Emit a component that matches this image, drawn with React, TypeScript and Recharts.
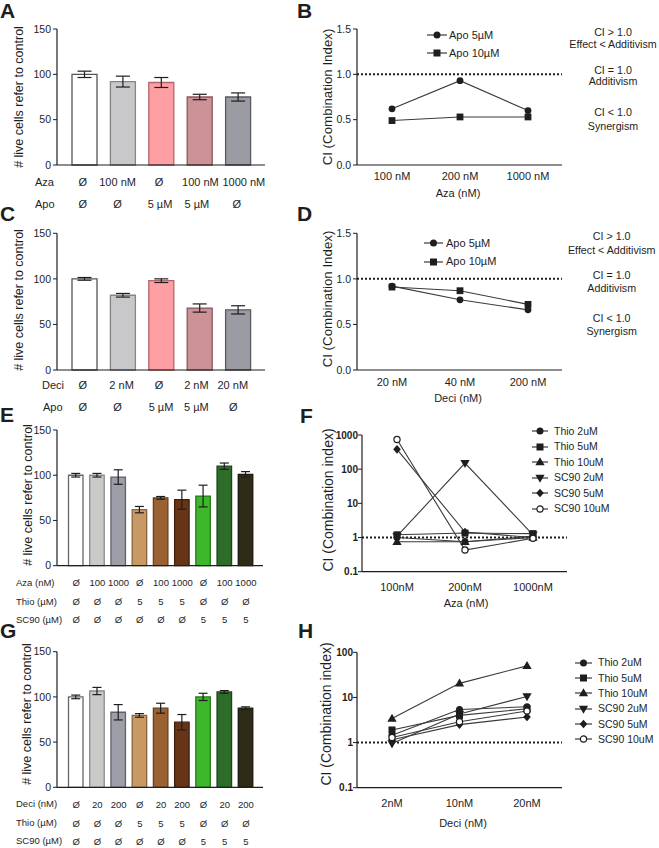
import { BarChart, Bar, Cell, ErrorBar, XAxis, YAxis, LineChart, Line, ReferenceLine } from "recharts";

const FONT = '"Liberation Sans", Arial, Helvetica, sans-serif';
const INK = "#1e1e1e";
const LINE = "#3a3a3a";

// A: Aza + Apo, live cells
const A_AZA = ["Ø", "100 nM", "Ø", "100 nM", "1000 nM"];
const A_APO = ["Ø", "Ø", "5 µM", "5 µM", "Ø"];
const A_MEAN = [100, 92, 91, 75, 75];
const A_SEM = [3.5, 6, 5.5, 3, 4.5];

// C: Deci + Apo
const C_DECI = ["Ø", "2 nM", "Ø", "2 nM", "20 nM"];
const C_APO = ["Ø", "Ø", "5 µM", "5 µM", "Ø"];
const C_MEAN = [100, 82, 98, 68, 66];
const C_SEM = [1.5, 2, 2, 4.5, 4.5];

const AC_FILL = ["#ffffff", "#c8c8ca", "#fe9fa3", "#cd9297", "#9b9ba3"];
const AC_EDGE = ["#555555", "#858585", "#b0666b", "#87595d", "#5a5a62"];

// B: CI, Aza + Apo
const B_AZA = ["100 nM", "200 nM", "1000 nM"];
const B_APO5 = [0.62, 0.93, 0.6];
const B_APO10 = [0.49, 0.53, 0.53];

// D: CI, Deci + Apo
const D_DECI = ["20 nM", "40 nM", "200 nM"];
const D_APO5 = [0.92, 0.77, 0.66];
const D_APO10 = [0.91, 0.87, 0.72];

// E: Aza + Thio / SC90
const E_AZA = ["Ø", "100", "1000", "Ø", "100", "1000", "Ø", "100", "1000"];
const E_THIO = ["Ø", "Ø", "Ø", "5", "5", "5", "Ø", "Ø", "Ø"];
const E_SC90 = ["Ø", "Ø", "Ø", "Ø", "Ø", "Ø", "5", "5", "5"];
const E_MEAN = [100, 100, 98, 62, 75, 73, 77, 110, 101];
const E_SEM = [2, 2, 8, 3.5, 1.5, 10.5, 12, 3.5, 3];

// G: Deci + Thio / SC90
const G_DECI = ["Ø", "20", "200", "Ø", "20", "200", "Ø", "20", "200"];
const G_THIO = ["Ø", "Ø", "Ø", "5", "5", "5", "Ø", "Ø", "Ø"];
const G_SC90 = ["Ø", "Ø", "Ø", "Ø", "Ø", "Ø", "5", "5", "5"];
const G_MEAN = [100, 106.5, 83, 79.5, 87.5, 72, 100, 105.5, 87.5];
const G_SEM = [2, 4, 8.5, 2, 5.5, 8.5, 4, 1.5, 1.5];

const EG_FILL = ["#ffffff", "#cacaca", "#9d9ea8", "#c99965", "#9a6233", "#683416", "#3cb82a", "#2e6c29", "#2e2b17"];
const EG_EDGE = ["#666666", "#8a8a8a", "#60616a", "#8a6540", "#65401f", "#40200c", "#257a1a", "#1c461a", "#1a180c"];

// F: CI log, Aza + Thio / SC90
const F_AZA = ["100nM", "200nM", "1000nM"];
const F_THIO2 = [1.0, 0.75, 1.1];
const F_THIO5 = [1.2, 1.35, 1.3];
const F_THIO10 = [0.75, 0.75, 1.0];
const F_SC90_2 = [1.1, 150, 1.2];
const F_SC90_5 = [380, 1.45, 1.0];
const F_SC90_10 = [740, 0.43, 0.95];

// H: CI log, Deci + Thio / SC90
const H_DECI = ["2nM", "10nM", "20nM"];
const H_THIO2 = [1.45, 5.4, 6.2];
const H_THIO5 = [1.9, 4.0, 5.6];
const H_THIO10 = [3.4, 20.5, 50];
const H_SC90_2 = [0.95, 4.3, 10.5];
const H_SC90_5 = [1.15, 2.5, 3.7];
const H_SC90_10 = [1.3, 2.9, 5.0];

const NAMES6 = ["Thio 2uM", "Thio 5uM", "Thio 10uM", "SC90 2uM", "SC90 5uM", "SC90 10uM"];
const SHAPES6 = ["circle", "square", "triangle", "down", "diamond", "open"];

// small horizontal nudges of the treatment labels under the bars (layout only)
const A_NUDGE = [[-1.5, -5, -2, 1, 6], [-1.5, -5, -1, -2.5, -1]];
const C_NUDGE = [[-1.5, -1, -2, -3, -5], [-1.5, -5, 0, -3, -4.5]];

function Mark({ shape, cx, cy, r = 3.5 }: any) {
  if (cx == null || cy == null) return null;
  const h = r * 1.15;
  switch (shape) {
    case "square":
      return <rect x={cx - r} y={cy - r} width={2 * r} height={2 * r} fill={INK} />;
    case "triangle":
      return <polygon points={`${cx},${cy - h - 0.8} ${cx + h + 0.6},${cy + h * 0.8} ${cx - h - 0.6},${cy + h * 0.8}`} fill={INK} />;
    case "down":
      return <polygon points={`${cx},${cy + h + 0.8} ${cx + h + 0.6},${cy - h * 0.8} ${cx - h - 0.6},${cy - h * 0.8}`} fill={INK} />;
    case "diamond":
      return <polygon points={`${cx},${cy - r - 0.8} ${cx + r + 0.3},${cy} ${cx},${cy + r + 0.8} ${cx - r - 0.3},${cy}`} fill={INK} />;
    case "open":
      return <circle cx={cx} cy={cy} r={r - 0.4} fill="#fff" stroke={INK} strokeWidth={1.2} />;
    default:
      return <circle cx={cx} cy={cy} r={r} fill={INK} />;
  }
}

function T({ x, y, s = 11, a = "start", b = false, children }: any) {
  const tx = a === "middle" ? "translateX(-50%)" : a === "end" ? "translateX(-100%)" : "none";
  return (
    <div
      style={{
        position: "absolute",
        left: x,
        top: y - s / 2,
        fontSize: s,
        lineHeight: `${s}px`,
        fontWeight: b ? 700 : 400,
        whiteSpace: "nowrap",
        transform: tx,
      }}
    >
      {children}
    </div>
  );
}

function VT({ x, y, s = 12.5, children }: any) {
  return (
    <div
      style={{
        position: "absolute",
        left: x,
        top: y,
        fontSize: s,
        lineHeight: `${s}px`,
        whiteSpace: "nowrap",
        transform: "translate(-50%, -50%) rotate(-90deg)",
      }}
    >
      {children}
    </div>
  );
}

function LegendRow({ x, y, w, shape, label, s = 11, gap = 4 }: any) {
  return (
    <>
      <svg style={{ position: "absolute", left: x, top: y - 6 }} width={w} height={12}>
        <line x1={0} x2={w} y1={6} y2={6} stroke={LINE} strokeWidth={1.2} />
        <Mark shape={shape} cx={w / 2} cy={6} />
      </svg>
      <T x={x + w + gap} y={y} s={s}>
        {label}
      </T>
    </>
  );
}

const rowTick = (rows: string[][], offs: number[], fs: number, nudge?: number[][]) => (props: any) => {
  const { x, y } = props;
  const i = props.index ?? props.payload?.index ?? 0;
  return (
    <g>
      {rows.map((r, k) => (
        <text
          key={k}
          x={x + (nudge ? nudge[k][i] : 0)}
          y={y + offs[k]}
          textAnchor="middle"
          dominantBaseline="central"
          fontSize={fs}
          fill={INK}
          fontFamily={FONT}
        >
          {r[i]}
        </text>
      ))}
    </g>
  );
};

function BarPanel({ top, height, plotTop, axisH, right, mean, sem, fills, edges, rows, offs, rowFont, nudge, barSize, cap, pad }: any) {
  const data = mean.map((m: number, i: number) => ({ id: `b${i}`, mean: m, sem: sem[i] }));
  return (
    <div style={{ position: "absolute", left: 0, top, width: 330, height }}>
      <BarChart width={330} height={height} data={data} margin={{ top: plotTop, right, left: 17, bottom: 0 }} barSize={barSize}>
        <XAxis
          dataKey="id"
          height={axisH}
          padding={pad}
          interval={0}
          axisLine={{ stroke: INK, strokeWidth: 1.2 }}
          tickLine={false}
          tickSize={0}
          tickMargin={0}
          tick={rowTick(rows, offs, rowFont, nudge)}
        />
        <YAxis
          width={40}
          domain={[0, 150]}
          ticks={[0, 50, 100, 150]}
          tickSize={4}
          tickMargin={2}
          axisLine={{ stroke: INK, strokeWidth: 1.2 }}
          tickLine={{ stroke: INK }}
          tick={{ fontSize: 10.5, fill: INK, fontFamily: FONT }}
        />
        <Bar dataKey="mean" isAnimationActive={false} strokeWidth={1.3}>
          {data.map((d: any, i: number) => (
            <Cell key={d.id} fill={fills[i]} stroke={edges[i]} />
          ))}
          <ErrorBar dataKey="sem" width={cap} stroke={INK} strokeWidth={1.2} direction="y" />
        </Bar>
      </BarChart>
    </div>
  );
}

function LinePanel({ left, top, width, height, plotTop, axisH, yw, right, cats, series, domain, ticks, log, fmt, bold, xMargin, pad, r }: any) {
  const data = cats.map((c: string, i: number) => {
    const row: any = { cat: c };
    series.forEach((s: any, k: number) => (row[`s${k}`] = s.values[i]));
    return row;
  });
  return (
    <div style={{ position: "absolute", left, top, width, height }}>
      <LineChart width={width} height={height} data={data} margin={{ top: plotTop, right, left: 0, bottom: 0 }}>
        <XAxis
          dataKey="cat"
          height={axisH}
          padding={pad}
          interval={0}
          axisLine={{ stroke: INK, strokeWidth: 1.2 }}
          tickLine={false}
          tickMargin={xMargin}
          tick={{ fontSize: 11, fill: INK, fontFamily: FONT }}
        />
        <YAxis
          width={yw}
          scale={log ? "log" : "auto"}
          domain={domain}
          ticks={ticks}
          allowDataOverflow
          tickFormatter={fmt}
          tickSize={4}
          tickMargin={log ? 0 : 2}
          axisLine={{ stroke: INK, strokeWidth: 1.2 }}
          tickLine={{ stroke: INK }}
          tick={{ fontSize: log ? 10 : 10.5, fill: INK, fontFamily: FONT, fontWeight: bold ? 700 : 400 }}
        />
        <ReferenceLine y={1} stroke={INK} strokeDasharray="2 2" strokeWidth={2} />
        {series.map((s: any, k: number) => (
          <Line
            key={s.name}
            dataKey={`s${k}`}
            stroke={LINE}
            strokeWidth={1.1}
            isAnimationActive={false}
            activeDot={false}
            dot={(p: any) => <Mark key={`${s.name}-${p.index}`} shape={s.shape} cx={p.cx} cy={p.cy} r={r} />}
          />
        ))}
      </LineChart>
    </div>
  );
}

const CI_TEXT = ["CI > 1.0", "Effect < Additivism", "CI = 1.0", "Additivism", "CI < 1.0", "Synergism"];

export default function App() {
  const bSeries = [
    { name: "Apo 5µM", shape: "circle", values: B_APO5 },
    { name: "Apo 10µM", shape: "square", values: B_APO10 },
  ];
  const dSeries = [
    { name: "Apo 5µM", shape: "circle", values: D_APO5 },
    { name: "Apo 10µM", shape: "square", values: D_APO10 },
  ];
  const fVals = [F_THIO2, F_THIO5, F_THIO10, F_SC90_2, F_SC90_5, F_SC90_10];
  const hVals = [H_THIO2, H_THIO5, H_THIO10, H_SC90_2, H_SC90_5, H_SC90_10];
  const fSeries = NAMES6.map((n, k) => ({ name: n, shape: SHAPES6[k], values: fVals[k] }));
  const hSeries = NAMES6.map((n, k) => ({ name: n, shape: SHAPES6[k], values: hVals[k] }));
  const bFmt = (v: number) => v.toFixed(1);
  const logFmt = (v: number) => String(v);
  const bY = [32, 44.3, 70, 81.7, 112.3, 126];
  const dY = [236.7, 250, 275, 288.3, 318.3, 331];
  const fLegY = [431, 446.5, 462, 477.5, 493, 508.5];
  const hLegY = [662.7, 678, 693.3, 708.6, 724, 739.3];

  return (
    <div
      style={{
        position: "absolute",
        left: 0,
        top: 0,
        width: 659,
        height: 848,
        overflow: "hidden",
        background: "#fff",
        color: INK,
        fontFamily: FONT,
      }}
    >
      {/* panel letters */}
      <T x={0} y={10} s={21} b>A</T>
      <T x={297} y={10} s={21} b>B</T>
      <T x={0} y={213} s={21} b>C</T>
      <T x={297} y={213} s={21} b>D</T>
      <T x={0} y={414} s={21} b>E</T>
      <T x={300} y={415.5} s={21} b>F</T>
      <T x={0} y={630.5} s={21} b>G</T>
      <T x={298} y={630.5} s={21} b>H</T>

      {/* A */}
      <BarPanel top={0} height={215} plotTop={29} axisH={50} right={65} mean={A_MEAN} sem={A_SEM} fills={AC_FILL} edges={AC_EDGE}
        rows={[A_AZA, A_APO]} offs={[17, 39]} rowFont={11} nudge={A_NUDGE} barSize={25} cap={7} pad={{ left: 8, right: 8 }} />
      <VT x={19} y={97}># live cells refer to control</VT>
      <T x={35} y={182}>Aza</T>
      <T x={35} y={204}>Apo</T>

      {/* C */}
      <BarPanel top={200} height={220} plotTop={33.3} axisH={50} right={65} mean={C_MEAN} sem={C_SEM} fills={AC_FILL} edges={AC_EDGE}
        rows={[C_DECI, C_APO]} offs={[15, 37]} rowFont={11} nudge={C_NUDGE} barSize={25} cap={7} pad={{ left: 8, right: 8 }} />
      <VT x={19} y={300}># live cells refer to control</VT>
      <T x={42} y={385}>Deci</T>
      <T x={43} y={407}>Apo</T>

      {/* E */}
      <BarPanel top={400} height={230} plotTop={30} axisH={64.3} right={67} mean={E_MEAN} sem={E_SEM} fills={EG_FILL} edges={EG_EDGE}
        rows={[E_AZA, E_THIO, E_SC90]} offs={[17, 36, 54]} rowFont={9.5} barSize={14.5} cap={4.5} pad={{ left: 8.5, right: 6.5 }} />
      <VT x={28} y={495}># live cells refer to control</VT>
      <T x={16} y={583} s={9.5}>Aza (nM)</T>
      <T x={16} y={602} s={9.5}>Thio (µM)</T>
      <T x={16} y={620} s={9.5}>SC90 (µM)</T>

      {/* G */}
      <BarPanel top={620} height={228} plotTop={31.7} axisH={60.7} right={67} mean={G_MEAN} sem={G_SEM} fills={EG_FILL} edges={EG_EDGE}
        rows={[G_DECI, G_THIO, G_SC90]} offs={[17, 36, 54]} rowFont={9.5} barSize={14.5} cap={4.5} pad={{ left: 8.5, right: 6.5 }} />
      <VT x={27} y={714}># live cells refer to control</VT>
      <T x={16} y={804} s={9.5}>Deci (nM)</T>
      <T x={16} y={823} s={9.5}>Thio (µM)</T>
      <T x={16} y={841} s={9.5}>SC90 (µM)</T>

      {/* B */}
      <LinePanel left={330} top={0} width={240} height={200} plotTop={29} axisH={35} yw={27} right={8} cats={B_AZA} series={bSeries}
        domain={[0, 1.5]} ticks={[0, 0.5, 1, 1.5]} fmt={bFmt} xMargin={1} pad={{ left: 35, right: 34 }} r={3.4} />
      <VT x={328} y={97} s={13.3}>CI (Combination Index)</VT>
      <T x={458} y={193} a="middle">Aza (nM)</T>
      <LegendRow x={427} y={35} w={20} shape="circle" label="Apo 5µM" gap={2} />
      <LegendRow x={427} y={53} w={20} shape="square" label="Apo 10µM" gap={2} />
      {CI_TEXT.map((t, i) => (
        <T key={`b${i}`} x={613} y={bY[i]} s={10.7} a="middle">{t}</T>
      ))}

      {/* D */}
      <LinePanel left={330} top={200} width={240} height={200} plotTop={33.3} axisH={30} yw={27} right={8} cats={D_DECI} series={dSeries}
        domain={[0, 1.5]} ticks={[0, 0.5, 1, 1.5]} fmt={bFmt} xMargin={2} pad={{ left: 35, right: 34 }} r={3.4} />
      <VT x={328} y={299} s={13.3}>CI (Combination Index)</VT>
      <T x={458} y={398} a="middle">Deci (nM)</T>
      <LegendRow x={424} y={243.3} w={19} shape="circle" label="Apo 5µM" gap={3} />
      <LegendRow x={424} y={261.7} w={19} shape="square" label="Apo 10µM" gap={3} />
      {CI_TEXT.map((t, i) => (
        <T key={`d${i}`} x={611.7} y={dY[i]} s={10.7} a="middle">{t}</T>
      ))}

      {/* F */}
      <LinePanel left={330} top={400} width={245} height={200} plotTop={35} axisH={28.3} yw={32} right={8} cats={F_AZA} series={fSeries}
        domain={[0.1, 1000]} ticks={[0.1, 1, 10, 100, 1000]} log bold fmt={logFmt} xMargin={5} pad={{ left: 35, right: 34 }} r={3.5} />
      <VT x={328} y={500} s={14}>CI (Combination index)</VT>
      <T x={466} y={603} a="middle">Aza (nM)</T>
      {NAMES6.map((n, k) => (
        <LegendRow key={`f${n}`} x={532} y={fLegY[k]} w={16} shape={SHAPES6[k]} label={n} s={10.5} gap={6} />
      ))}

      {/* H */}
      <LinePanel left={330} top={620} width={240} height={200} plotTop={32.3} axisH={32.3} yw={27} right={8} cats={H_DECI} series={hSeries}
        domain={[0.1, 100]} ticks={[0.1, 1, 10, 100]} log bold fmt={logFmt} xMargin={5} pad={{ left: 35, right: 35 }} r={3.5} />
      <VT x={326} y={714} s={14}>CI (Combination index)</VT>
      <T x={463} y={823} a="middle">Deci (nM)</T>
      {NAMES6.map((n, k) => (
        <LegendRow key={`h${n}`} x={575} y={hLegY[k]} w={17} shape={SHAPES6[k]} label={n} s={10.5} gap={6} />
      ))}
    </div>
  );
}
